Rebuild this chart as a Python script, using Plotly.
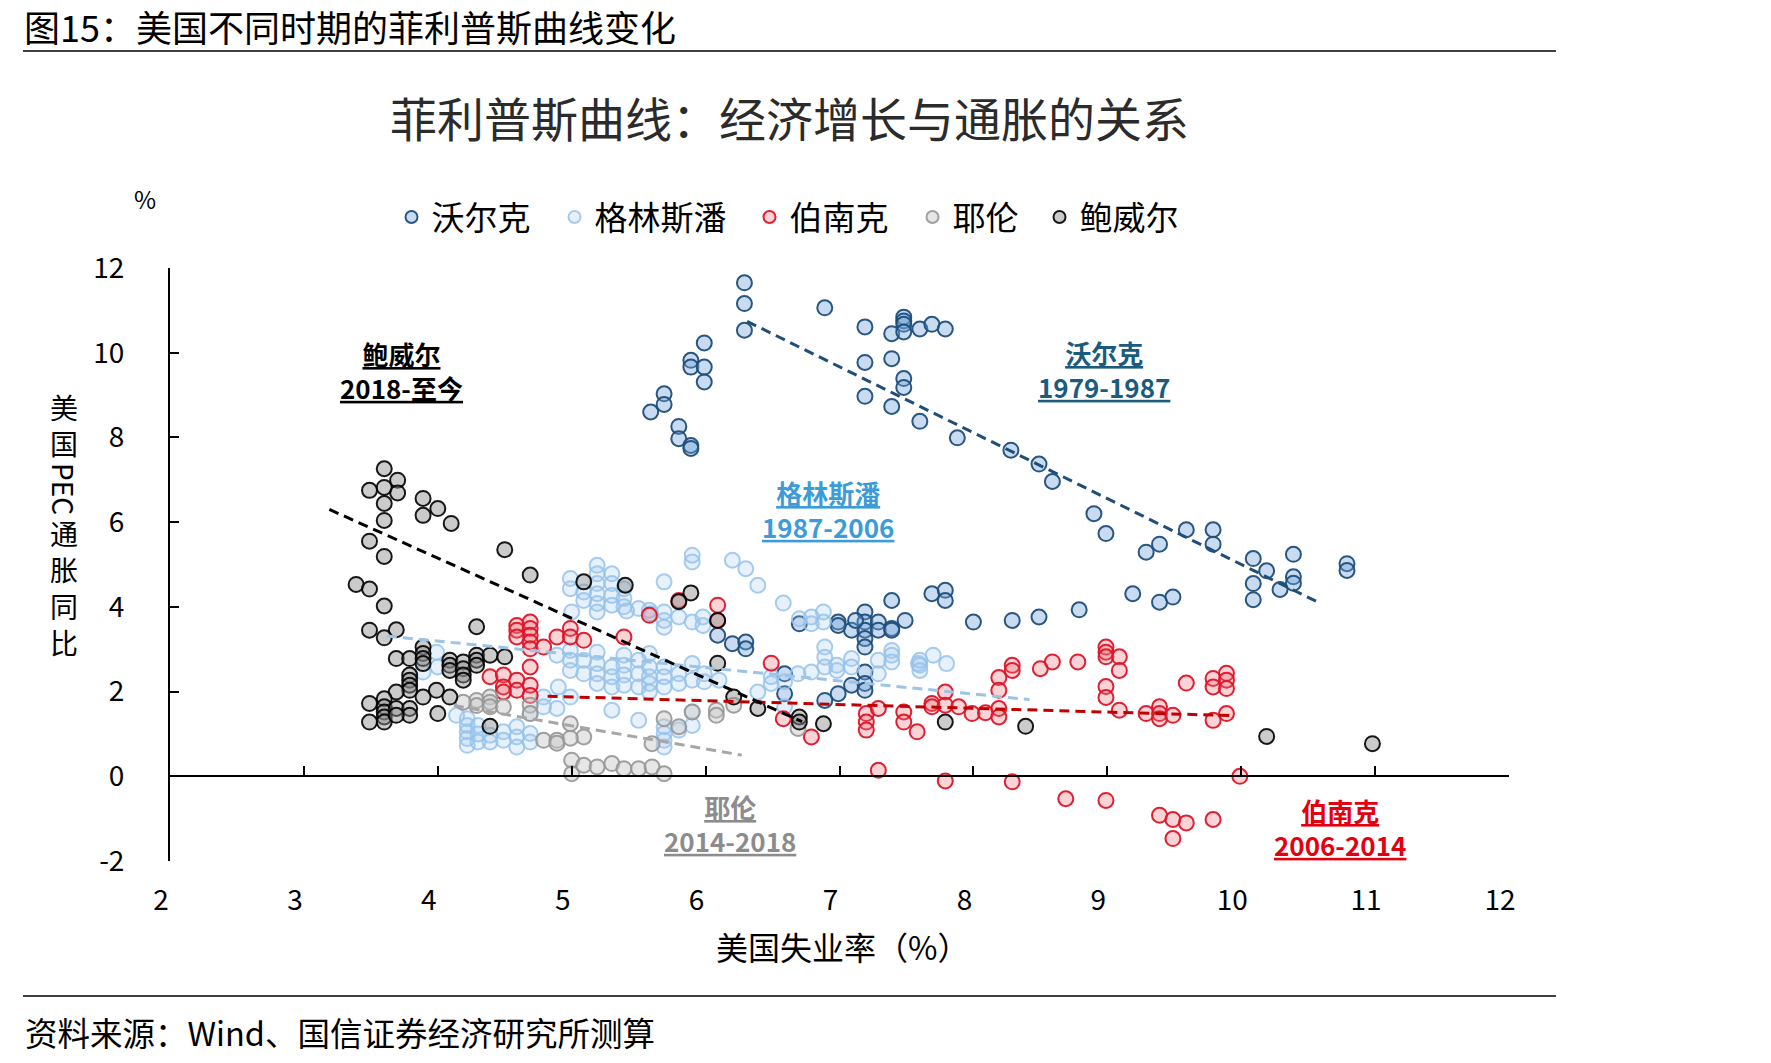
import plotly.graph_objects as go

# ---------------- data ----------------
volcker_x = [6.29, 6.29, 6.29, 5.99, 5.89, 5.89, 5.99, 5.99, 5.69, 5.69, 5.59, 5.80, 5.80, 5.89, 5.89,
             6.89, 7.19, 7.19, 7.19, 7.39, 7.39, 7.39, 7.48, 7.48, 7.48, 7.48, 7.48, 7.48,
             7.60, 7.69, 7.79, 7.60, 7.88, 8.28, 8.49, 8.59, 8.90, 8.99, 9.29, 9.39, 9.59, 9.79, 9.79,
             9.19, 9.39, 9.49, 10.09, 10.09, 10.09, 10.19, 10.29, 10.39, 10.39, 10.39, 10.79, 10.79,
             6.09, 6.20, 6.30, 6.30, 6.70, 6.89, 6.99, 7.09, 7.19, 7.19, 7.19,
             6.99, 7.09, 7.19, 7.19, 7.19, 7.19, 7.19, 7.29, 7.29, 7.39, 7.49, 7.39,
             7.69, 7.79, 7.79, 8.00, 8.29, 8.49, 8.79, 6.59, 6.59, 6.99, 7.12, 7.39]
volcker_y = [11.65, 11.16, 10.53, 10.23, 9.82, 9.66, 9.66, 9.31, 9.03, 8.78, 8.60, 8.26, 7.97, 7.81, 7.74,
             11.06, 10.61, 9.77, 8.97, 10.45, 9.86, 8.73, 10.84, 10.75, 10.67, 10.49, 9.39, 9.18,
             10.56, 10.67, 10.56, 8.38, 7.99, 7.70, 7.37, 6.96, 6.20, 5.73, 5.29, 5.48, 5.82, 5.82, 5.48,
             4.31, 4.11, 4.23, 5.14, 4.55, 4.17, 4.85, 4.41, 5.24, 4.71, 4.56, 5.02, 4.86,
             3.33, 3.13, 3.17, 3.01, 3.60, 1.79, 1.95, 2.15, 2.46, 2.19, 2.03,
             3.64, 3.45, 3.88, 3.64, 3.45, 3.25, 3.05, 3.64, 3.45, 3.49, 3.68, 4.15,
             4.31, 4.39, 4.15, 3.64, 3.68, 3.76, 3.93, 2.42, 1.95, 3.56, 3.68, 3.45]

greenspan_x = [5.19, 5.19, 5.19, 5.19, 5.19, 5.19, 4.99, 5.30, 5.30, 5.30, 5.30, 5.39, 5.39, 5.39, 5.00,
               4.89, 4.99, 4.99, 4.99, 5.09, 5.09, 5.19, 5.19, 5.19, 5.19, 5.30, 5.30, 5.30,
               5.39, 5.39, 5.39, 5.39, 4.90, 4.79, 4.79, 4.69, 4.89, 4.99, 5.30,
               3.99, 3.89, 4.00,
               4.22, 4.22, 4.22, 4.22, 4.22, 4.30, 4.30, 4.30, 4.39, 4.39, 4.49, 4.49, 4.59, 4.59, 4.59,
               4.69, 4.69, 4.14,
               5.90, 5.90, 6.20, 6.30, 6.39, 6.58, 5.69, 5.41, 5.50, 5.58, 5.69, 5.69, 5.69, 5.80, 5.90,
               5.98, 5.98, 6.70, 6.79, 6.79, 6.88, 6.88,
               5.50, 5.50, 5.58, 5.58, 5.58, 5.58, 5.69, 5.69, 5.69, 5.80, 5.80, 5.90, 5.90, 5.99, 5.99,
               6.10, 5.50, 5.58,
               5.69, 5.69, 5.69, 5.69, 5.80, 5.90, 5.90, 5.50,
               6.49, 6.49, 6.59, 6.59, 6.69, 6.79, 6.89, 6.89, 6.89, 6.98, 6.98, 7.09, 7.09, 7.29, 7.29,
               7.39, 7.39, 7.39, 7.59, 6.39,
               7.60, 7.60, 7.60, 7.70, 7.80, 5.09, 5.09, 4.99, 5.59]
greenspan_y = [4.98, 4.78, 4.55, 4.31, 4.08, 3.88, 4.67, 4.78, 4.55, 4.27, 4.04, 4.43, 4.20, 4.00, 3.88,
               2.86, 2.97, 2.74, 2.50, 2.74, 2.42, 2.93, 2.66, 2.42, 2.19, 2.58, 2.35, 2.11,
               2.86, 2.62, 2.39, 2.15, 2.11, 1.87, 1.64, 1.48, 1.60, 1.87, 1.56,
               2.93, 2.46, 2.58,
               1.36, 1.20, 1.05, 0.89, 0.73, 1.20, 1.00, 0.81, 0.97, 0.81, 1.05, 0.85, 1.17, 0.93, 0.69,
               1.01, 0.81, 1.44,
               5.22, 5.06, 5.10, 4.90, 4.51, 4.09, 4.59, 3.90, 3.96, 3.92, 3.88, 3.68, 3.52, 3.76, 3.64,
               3.76, 3.56, 3.72, 3.76, 3.60, 3.88, 3.64,
               2.74, 2.42, 2.90, 2.58, 2.35, 2.19, 2.58, 2.35, 2.11, 2.42, 2.19, 2.66, 2.27, 2.42, 2.23,
               2.27, 2.11, 1.99,
               1.17, 1.01, 0.85, 0.69, 1.09, 1.52, 1.20, 1.32,
               2.35, 2.19, 2.23, 1.64, 2.42, 2.46, 3.05, 2.81, 2.58, 2.62, 2.50, 2.78, 2.58, 2.74, 2.42,
               2.97, 2.86, 2.70, 2.66, 1.99,
               2.74, 2.62, 2.50, 2.86, 2.66, 4.35, 4.15, 4.43, 3.84]

bernanke_x = [4.59, 4.59, 4.69, 4.69, 4.69, 4.69, 4.69, 4.59, 4.79, 4.89, 4.99, 4.99, 5.09, 4.69,
              4.39, 4.49, 4.49, 4.59, 4.59, 4.69, 4.69, 4.49, 5.39,
              5.58, 5.80, 6.09, 6.09, 6.49, 6.58, 6.79, 7.20, 7.20, 7.20, 7.29, 7.48, 7.48, 7.58, 7.29,
              7.69, 7.69, 7.79, 7.79, 7.89, 7.99, 8.09, 8.19, 8.19, 8.19, 8.19, 8.29, 8.29, 8.50, 8.59,
              8.78, 8.99, 8.99, 8.99, 9.09, 9.09, 8.99, 8.99, 9.09, 9.29, 9.39, 9.39, 9.39, 9.49, 9.59,
              9.79, 9.79, 9.89, 9.89, 9.89, 9.79, 9.89,
              7.79, 8.29, 8.69, 8.99, 9.39, 9.49, 9.59, 9.79, 9.49, 9.99]
bernanke_y = [3.56, 3.45, 3.64, 3.49, 3.33, 3.17, 3.01, 3.29, 3.05, 3.29, 3.49, 3.29, 3.21, 2.58,
              2.35, 2.39, 2.11, 2.27, 2.03, 2.15, 1.91, 1.99, 3.29,
              3.80, 4.15, 4.04, 3.68, 2.67, 1.36, 0.93, 1.48, 1.28, 1.09, 1.60, 1.52, 1.28, 1.05, 0.14,
              1.72, 1.64, 1.99, 1.68, 1.64, 1.48, 1.50, 2.33, 2.03, 1.60, 1.40, 2.62, 2.50, 2.54, 2.70,
              2.70, 3.05, 2.93, 2.82, 2.82, 2.50, 2.12, 1.86, 1.56, 1.48, 1.64, 1.48, 1.36, 1.44, 2.20,
              2.31, 2.11, 2.43, 2.27, 2.07, 1.32, 1.48,
              -0.11, -0.13, -0.53, -0.57, -0.92, -1.02, -1.10, -1.02, -1.47, 0.00]

yellen_x = [4.29, 4.29, 4.39, 4.39, 4.39, 4.19, 4.49, 4.69, 4.69, 4.79, 4.89, 4.99, 5.00, 5.00, 5.09,
            5.09, 5.19, 5.30, 5.39, 5.50, 5.60, 5.69, 5.60, 5.69, 5.80, 5.90, 6.08, 6.08, 6.21, 6.69,
            4.89, 4.99]
yellen_y = [1.79, 1.67, 1.87, 1.75, 1.64, 1.75, 1.64, 1.68, 1.48, 0.85, 0.85, 1.24, 0.38, 0.06, 0.93,
            0.26, 0.22, 0.30, 0.18, 0.18, 0.22, 0.06, 0.77, 1.36, 1.17, 1.52, 1.56, 1.44, 1.68, 1.13,
            0.78, 0.90]

powell_x = [3.60, 3.49, 3.60, 3.70, 3.70, 3.60, 3.60, 3.89, 4.00, 3.89, 4.10, 3.49, 3.60, 4.50, 3.39,
            3.49, 4.69, 5.09, 5.40, 5.89, 3.60,
            3.49, 3.60, 3.69, 4.29, 3.69, 3.79, 3.89, 3.89, 3.89, 3.89, 4.09, 4.09, 4.09, 4.19, 4.19,
            4.19, 4.19, 4.29, 4.29, 4.29, 4.39, 4.50,
            3.79, 3.79, 3.79, 3.79, 3.69, 3.89, 3.99, 4.09, 3.49, 3.60, 3.60, 3.60, 3.60, 3.60, 3.69,
            3.79, 3.79, 3.49, 3.69, 4.00, 4.39,
            5.80, 6.09, 6.09, 6.21, 6.39, 6.70, 6.70, 6.88, 7.79, 8.39, 10.19, 10.98]
powell_y = [7.26, 6.75, 6.82, 6.99, 6.69, 6.44, 6.04, 6.56, 6.32, 6.16, 5.97, 5.55, 5.19, 5.35, 4.53,
            4.42, 4.75, 4.59, 4.51, 4.33, 4.02,
            3.45, 3.27, 3.46, 3.53, 2.78, 2.78, 3.05, 2.90, 2.78, 2.66, 2.74, 2.62, 2.50, 2.70, 2.54,
            2.39, 2.27, 2.86, 2.74, 2.62, 2.86, 2.82,
            2.39, 2.27, 2.15, 2.03, 1.99, 1.87, 2.03, 1.87, 1.72, 1.83, 1.64, 1.52, 1.40, 1.28, 1.60,
            1.60, 1.44, 1.28, 1.44, 1.48, 1.18,
            4.12, 3.68, 2.67, 1.87, 1.60, 1.40, 1.28, 1.24, 1.28, 1.18, 0.94, 0.77]

# fitted trend lines (start / end)
volcker_trend_x = [6.31, 10.58]
volcker_trend_y = [10.74, 4.10]
greenspan_trend_x = [3.62, 8.42]
greenspan_trend_y = [3.31, 1.81]
bernanke_trend_x = [4.82, 9.95]
bernanke_trend_y = [1.89, 1.43]
yellen_trend_x = [4.12, 6.27]
yellen_trend_y = [1.67, 0.50]
powell_trend_x = [3.19, 6.72]
powell_trend_y = [6.30, 1.29]

series_names = ["沃尔克", "格林斯潘", "伯南克", "耶伦", "鲍威尔"]
period_labels = ["1979-1987", "1987-2006", "2006-2014", "2014-2018", "2018-至今"]
x_ticks = [2, 3, 4, 5, 6, 7, 8, 9, 10, 11, 12]
y_ticks = [-2, 0, 2, 4, 6, 8, 10, 12]

# ---------------- layout geometry ----------------
W, H = 1771, 1063
L, R, T, B = 170, 262, 268, 202
PW, PH = W - L - R, H - T - B
FONT = "Noto Sans CJK SC"


def px(x):
    return (x - L) / PW


def py(y):
    return (H - B - y) / PH


styles = [
    dict(fill="rgba(110,160,215,0.38)", edge="rgba(31,78,121,0.95)", trend="#1F4E79"),
    dict(fill="rgba(160,200,240,0.25)", edge="rgba(150,195,235,0.85)", trend="#9DC3E6"),
    dict(fill="rgba(240,110,120,0.30)", edge="rgba(222,20,40,0.95)", trend="#C00000"),
    dict(fill="rgba(200,200,200,0.45)", edge="rgba(150,150,150,0.9)", trend="#A6A6A6"),
    dict(fill="rgba(140,140,140,0.45)", edge="rgba(0,0,0,0.9)", trend="#000000"),
]
# legend marker centres (pixels) for each series
legend_marker_px = [411, 574, 769, 932, 1059]
legend_ids = ["legend", "legend2", "legend3", "legend4", "legend5"]

data_sets = [(volcker_x, volcker_y), (greenspan_x, greenspan_y), (bernanke_x, bernanke_y),
             (yellen_x, yellen_y), (powell_x, powell_y)]
trends = [(volcker_trend_x, volcker_trend_y), (greenspan_trend_x, greenspan_trend_y),
          (bernanke_trend_x, bernanke_trend_y), (yellen_trend_x, yellen_trend_y),
          (powell_trend_x, powell_trend_y)]

fig = go.Figure()
for name, (xs, ys), st, lid in zip(series_names, data_sets, styles, legend_ids):
    fig.add_trace(go.Scatter(
        x=xs, y=ys, mode="markers", name=name, legend=lid,
        marker=dict(size=15, color=st["fill"], line=dict(color=st["edge"], width=2)),
    ))
for (tx, ty), st in zip(trends, styles):
    fig.add_trace(go.Scatter(
        x=tx, y=ty, mode="lines", showlegend=False, hoverinfo="skip",
        line=dict(color=st["trend"], width=3, dash="10px,6px"),
    ))
# carrier trace for the tick-label axis
fig.add_trace(go.Scatter(x=[None], y=[None], xaxis="x2", showlegend=False, hoverinfo="skip"))

legend_layout = {}
for lid, mx in zip(legend_ids, legend_marker_px):
    legend_layout[lid] = dict(orientation="h", x=px(mx - 19.5), y=py(217), xanchor="left",
                              yanchor="middle", font=dict(size=33, family=FONT, color="#000000"),
                              itemsizing="constant", bgcolor="rgba(0,0,0,0)")

fig.update_layout(
    width=W, height=H, autosize=False,
    margin=dict(l=L, r=R, t=T, b=B, pad=0),
    paper_bgcolor="white", plot_bgcolor="white",
    font=dict(family=FONT, color="#000000"),
    showlegend=True,
    title=dict(text="菲利普斯曲线：经济增长与通胀的关系", x=px(699 * W / 1568), xref="paper",
               y=1 - 121 / H, yref="container", xanchor="center", yanchor="middle",
               font=dict(size=47, family=FONT, color="#2b2b2b")),
    xaxis=dict(range=[2, 12], anchor="free", position=2 / 14, showline=True, linecolor="black",
               linewidth=2, ticks="inside", ticklen=9, tickwidth=2, tickcolor="black",
               tickvals=x_ticks[1:], showticklabels=False, showgrid=False, zeroline=False),
    xaxis2=dict(range=[2, 12], overlaying="x", anchor="y", side="bottom",
                tickvals=x_ticks, ticktext=[str(v) for v in x_ticks], showline=False, ticks="",
                showgrid=False, zeroline=False, ticklabelstandoff=20, ticklabelshift=-9,
                tickfont=dict(size=28, family=FONT, color="black")),
    yaxis=dict(range=[-2, 12], tickvals=y_ticks, ticktext=[str(v) for v in y_ticks],
               showline=True, linecolor="black", linewidth=2, ticks="inside", ticklen=9,
               tickwidth=2, tickcolor="black", showgrid=False, zeroline=False,
               ticklabelstandoff=38, tickfont=dict(size=28, family=FONT, color="black")),
    **legend_layout,
)

ann = []
# header and footer
ann.append(dict(text="图15：美国不同时期的菲利普斯曲线变化", x=px(23), y=py(26), xref="paper", yref="paper",
                xanchor="left", yanchor="middle", showarrow=False, borderpad=0,
                font=dict(size=36, family=FONT, color="black")))
ann.append(dict(text="资料来源：Wind、国信证券经济研究所测算", x=px(23), y=py(1031), xref="paper",
                yref="paper", xanchor="left", yanchor="middle", showarrow=False,
                font=dict(size=32.5, family=FONT, color="black")))
# unit label
ann.append(dict(text="%", x=px(145), y=py(198), xref="paper", yref="paper", xanchor="center",
                yanchor="middle", showarrow=False, font=dict(size=24, family=FONT, color="black")))
# x axis title
ann.append(dict(text="美国失业率（%）", x=px(842), y=py(946), xref="paper", yref="paper",
                xanchor="center", yanchor="middle", showarrow=False,
                font=dict(size=32, family=FONT, color="black")))
# y axis title, stacked vertically (upright CJK, rotated Latin)
ann.append(dict(text="美<br>国", x=px(64), y=py(425), xref="paper", yref="paper", xanchor="center",
                yanchor="middle", showarrow=False, borderpad=0,
                font=dict(size=28, family=FONT, color="black")))
ann.append(dict(text="PEC", x=px(64), y=py(489), xref="paper", yref="paper", xanchor="center",
                yanchor="middle", showarrow=False, textangle=90, borderpad=0,
                font=dict(size=28, family=FONT, color="black")))
ann.append(dict(text="通<br>胀<br>同<br>比", x=px(64), y=py(587), xref="paper", yref="paper",
                xanchor="center", yanchor="middle", showarrow=False, borderpad=0,
                font=dict(size=28, family=FONT, color="black")))

# period labels
label_pos = [(1104, 369, "#1B5B7E"), (828, 509, "#3D9BD8"), (1340, 827, "#E3000F"),
             (730, 823, "#8C8C8C"), (401, 370, "#000000")]
for name, period, (lx, ly, col) in zip(series_names, period_labels, label_pos):
    ann.append(dict(text=f"{name}<br>{period}", x=px(lx), y=py(ly), xref="paper", yref="paper",
                    xanchor="center", yanchor="middle", showarrow=False, align="center",
                    font=dict(size=26, family=FONT, color=col, weight="bold", lineposition="under")))
fig.update_layout(annotations=ann)

# header / footer rules
for yy in (51, 996):
    fig.add_shape(type="line", xref="paper", yref="paper", x0=px(23), x1=px(1556),
                  y0=py(yy), y1=py(yy), line=dict(color="black", width=1.5))

fig.write_html("out.html")
